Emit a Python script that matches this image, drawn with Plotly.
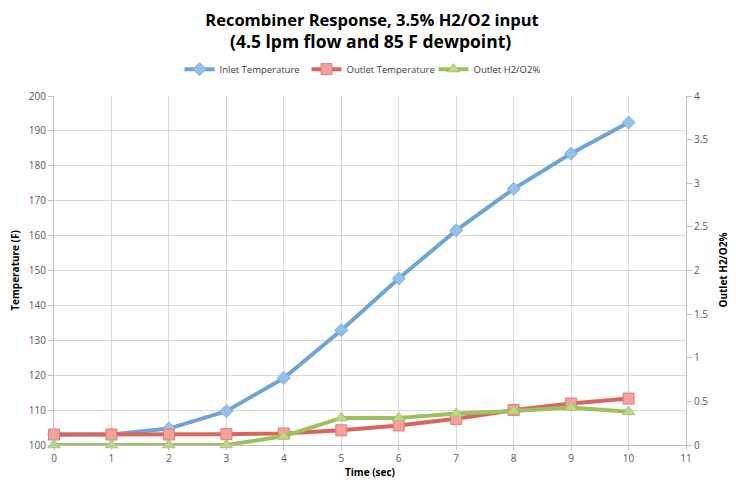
import plotly.graph_objects as go

time_sec = [0, 1, 2, 3, 4, 5, 6, 7, 8, 9, 10]
inlet_temp = [103.0, 103.0, 104.7, 109.7, 119.2, 132.9, 147.7, 161.5, 173.4, 183.5, 192.4]
outlet_temp = [103.0, 103.0, 103.0, 103.1, 103.3, 104.2, 105.6, 107.5, 110.0, 111.9, 113.3]
outlet_h2o2 = [0.0, 0.0, 0.0, 0.0, 0.10, 0.31, 0.31, 0.36, 0.39, 0.43, 0.38]

FONT = "Open Sans"
TICKC = "#595959"
GRID = "#d9d9d9"

# the page body has an 8px margin, so the figure is sized to fit inside the window
W, H = 728, 474
PLOT_H = H - 88 - 37

fig = go.Figure()
fig.add_trace(go.Scatter(
    x=time_sec, y=inlet_temp, name="Inlet Temperature", mode="lines+markers",
    line=dict(color="#6fa5d6", width=4),
    marker=dict(symbol="diamond", size=10, color="#94c2ea", line=dict(color="#7fb0dc", width=1)),
    cliponaxis=False))
fig.add_trace(go.Scatter(
    x=time_sec, y=outlet_temp, name="Outlet Temperature", mode="lines+markers",
    line=dict(color="#d8665e", width=4),
    marker=dict(symbol="square", size=11, color="#f3a29c", line=dict(color="#e07d76", width=1)),
    cliponaxis=False))
fig.add_trace(go.Scatter(
    x=time_sec, y=outlet_h2o2, name="Outlet H2/O2%", mode="lines+markers", yaxis="y2",
    line=dict(color="#9fc05f", width=4),
    marker=dict(symbol="triangle-up", size=11, color="#bcd889", line=dict(color="#a6c46a", width=1)),
    cliponaxis=False))

fig.update_layout(
    width=W, height=H,
    margin=dict(l=46, r=50, t=88, b=37),
    paper_bgcolor="white", plot_bgcolor="white",
    font=dict(family=FONT, color=TICKC, size=10),
    title=dict(text="<b>Recombiner Response, 3.5% H2/O2 input</b>",
               x=0.5, xanchor="center", y=1 - 12 / H, yanchor="middle",
               font=dict(family=FONT, size=16.5, color="#000000")),
    showlegend=True,
    legend=dict(orientation="h", x=0.5, xanchor="center", y=1.077, yanchor="middle",
                font=dict(family=FONT, size=9.5, color="#404040"),
                bgcolor="rgba(0,0,0,0)", entrywidth=82, entrywidthmode="pixels",
                tracegroupgap=0),
    xaxis=dict(range=[0, 11], tickmode="linear", tick0=0, dtick=1, automargin=False,
               showgrid=True, gridcolor=GRID, gridwidth=1,
               showline=True, linecolor="#bfbfbf", linewidth=1,
               ticks="outside", tickcolor="#bfbfbf", ticklen=4,
               zeroline=False,
               tickfont=dict(family=FONT, size=10, color=TICKC)),
    yaxis=dict(range=[100, 200], tickmode="linear", tick0=100, dtick=10, automargin=False,
               showgrid=True, gridcolor=GRID, gridwidth=1,
               showline=True, linecolor="#bfbfbf", linewidth=1,
               ticks="outside", tickcolor="#bfbfbf", ticklen=5,
               zeroline=False,
               tickfont=dict(family=FONT, size=10, color=TICKC)),
    yaxis2=dict(range=[0, 4], tickmode="linear", tick0=0, dtick=0.5, automargin=False,
                overlaying="y", side="right", showgrid=False,
                showline=True, linecolor="#bfbfbf", linewidth=1,
                ticks="outside", tickcolor="#bfbfbf", ticklen=5,
                zeroline=False,
                tickfont=dict(family=FONT, size=10, color=TICKC)),
    annotations=[
        dict(text="<b>(4.5 lpm flow and 85 F dewpoint)</b>", xref="paper", yref="paper",
             x=0.5, y=1 + (88 - 33) / PLOT_H,
             xanchor="center", yanchor="middle", showarrow=False,
             font=dict(family=FONT, size=17.5, color="#000000")),
        dict(text="<b>Time (sec)</b>", xref="paper", yref="paper", x=0.5, y=-0.077,
             xanchor="center", yanchor="middle", showarrow=False,
             font=dict(family=FONT, size=10, color="#000000")),
        dict(text="<b>Temperature (F)</b>", xref="paper", yref="paper", x=-0.063, y=0.5,
             xanchor="center", yanchor="middle", showarrow=False, textangle=-90,
             font=dict(family=FONT, size=10, color="#000000")),
        dict(text="<b>Outlet H2/O2%</b>", xref="paper", yref="paper", x=1.057, y=0.5,
             xanchor="center", yanchor="middle", showarrow=False, textangle=-90,
             font=dict(family=FONT, size=10, color="#000000")),
    ],
)

fig.write_html("out.html")
